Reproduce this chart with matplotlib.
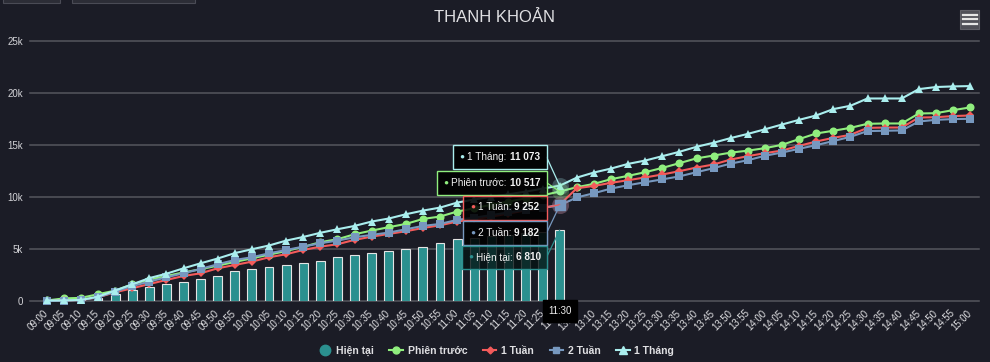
import matplotlib
matplotlib.use("Agg")
import numpy as np
import matplotlib.pyplot as plt
from matplotlib.lines import Line2D
from matplotlib.patches import Rectangle, ConnectionPatch
from matplotlib.text import Annotation

plt.rcParams["font.family"] = ["Liberation Sans", "DejaVu Sans"]

# ---- data -------------------------------------------------------------
times = [
    "09:00", "09:05", "09:10", "09:15", "09:20", "09:25", "09:30", "09:35",
    "09:40", "09:45", "09:50", "09:55", "10:00", "10:05", "10:10", "10:15",
    "10:20", "10:25", "10:30", "10:35", "10:40", "10:45", "10:50", "10:55",
    "11:00", "11:05", "11:10", "11:15", "11:20", "11:25", "11:30",
    "13:05", "13:10", "13:15", "13:20", "13:25", "13:30", "13:35", "13:40",
    "13:45", "13:50", "13:55", "14:00", "14:05", "14:10", "14:15", "14:20",
    "14:25", "14:30", "14:35", "14:40", "14:45", "14:50", "14:55", "15:00",
]

hien_tai = [
    20, 40, 60, 300, 640, 1030, 1380, 1660, 1830, 2120, 2380, 2850, 3070,
    3240, 3460, 3620, 3870, 4190, 4390, 4640, 4800, 4990, 5210, 5600, 5920,
    6050, 6200, 6350, 6500, 6650, 6810,
]

phien_truoc = [
    50, 250, 300, 650, 1000, 1600, 2050, 2400, 2750, 3050, 3400, 3750, 4100,
    4450, 4800, 5200, 5650, 5930, 6410, 6760, 7090, 7400, 7880, 8110, 8590,
    8900, 9250, 9550, 9850, 10150, 10517,
    10930, 11250, 11700, 12020, 12370, 12780, 13240, 13700, 13970, 14250,
    14440, 14680, 15000, 15550, 16090, 16350, 16630, 17020, 17050, 17050,
    18010, 18040, 18330, 18590,
]

tuan_1 = [
    0, 50, 100, 350, 840, 1220, 1630, 2020, 2400, 2660, 3140, 3460, 3780,
    4200, 4490, 4900, 5220, 5450, 5870, 6180, 6440, 6700, 7010, 7270, 7630,
    7850, 8100, 8400, 8700, 8950, 9252,
    10830, 11050, 11350, 11600, 11870, 12150, 12470, 12820, 13110, 13590,
    13910, 14200, 14450, 14900, 15320, 15670, 15960, 16630, 16660, 16660,
    17620, 17650, 17760, 17820,
]

tuan_2 = [
    0, 30, 100, 350, 900, 1440, 1860, 2280, 2660, 3080, 3530, 3940, 4200,
    4580, 4900, 5220, 5550, 5800, 6120, 6350, 6570, 6890, 7210, 7400, 7790,
    8000, 8250, 8500, 8750, 8950, 9182,
    9950, 10350, 10800, 11120, 11410, 11680, 11970, 12370, 12760, 13200,
    13520, 13950, 14260, 14620, 14970, 15360, 15770, 16320, 16350, 16380,
    17240, 17400, 17470, 17500,
]

thang_1 = [
    50, 60, 100, 420, 1000, 1600, 2200, 2620, 3140, 3620, 4080, 4600, 4970,
    5330, 5800, 6150, 6550, 6890, 7210, 7630, 7920, 8330, 8680, 8970, 9450,
    9750, 10000, 10250, 10500, 10800, 11073,
    11850, 12340, 12720, 13170, 13490, 13910, 14330, 14810, 15200, 15650,
    16050, 16490, 16950, 17400, 17820, 18430, 18750, 19450, 19450, 19450,
    20350, 20550, 20610, 20640,
]

y_ticks = [0, 5000, 10000, 15000, 20000, 25000]
y_tick_labels = ["0", "5k", "10k", "15k", "20k", "25k"]

# ---- style ------------------------------------------------------------
W, H = 990, 362
BG = "#1b1c26"
GRID = "#55565e"
TXT = "#E0E0E3"
TEAL, GREEN, RED, BLUE, CYAN = "#2b908f", "#90ee7e", "#f45b5b", "#7798BF", "#aaeeee"


def fx(px):
    return px / W


def fy(py):
    return 1 - py / H


fig = plt.figure(figsize=(W / 100, H / 100), dpi=100, facecolor=BG)
ax = fig.add_axes([fx(30), fy(301), (979 - 30) / W, (301 - 40.7) / H])
ax.set_facecolor(BG)
for s in ax.spines.values():
    s.set_visible(False)

x = np.arange(len(times))
ax.set_xlim(-0.977, 54.52)
ax.set_ylim(0, 25000)

for t in y_ticks:
    ax.axhline(t, color=GRID, lw=1.1, zorder=0, clip_on=False)
ax.set_yticks(y_ticks)
ax.set_yticklabels(y_tick_labels)
ax.tick_params(axis="y", length=0, pad=5, labelsize=7, labelcolor="#D4D4D8")

ax.set_xticks(x)
ax.set_xticklabels(times, rotation=45, ha="right", va="center",
                   rotation_mode="anchor")
ax.tick_params(axis="x", length=0, pad=7.5, labelsize=6.9, labelcolor=TXT)

# current day columns
ax.bar(x[:len(hien_tai)], hien_tai, width=0.52, color=TEAL,
       edgecolor="#e4e4e4", linewidth=0.8, zorder=2)

series = [
    ("Phiên trước", phien_truoc, GREEN, "o", 5.8),
    ("1 Tuần", tuan_1, RED, "D", 3.6),
    ("2 Tuần", tuan_2, BLUE, "s", 5.6),
    ("1 Tháng", thang_1, CYAN, "^", 6.0),
]
for name, vals, col, mk, ms in series:
    ax.plot(x, vals, color=col, lw=1.5, marker=mk, markersize=ms,
            markeredgewidth=0, zorder=3, clip_on=False)

# hover state at 11:30
hi = times.index("11:30")
for name, vals, col, mk, ms in series:
    ax.scatter([hi], [vals[hi]], s=150, color=col, alpha=0.25,
               linewidths=0, zorder=4)
ax.plot([hi], [tuan_2[hi]], marker="s", markersize=7.5, color=BLUE, zorder=5)

# tooltips (layout in figure pixels)
tips = [
    ("1 Tháng", thang_1[hi], CYAN, 452.7, 145.0, 169.5, (0, 0, 0, 0.88)),
    ("Phiên trước", phien_truoc[hi], GREEN, 436.7, 170.5, 195.0, (0, 0, 0, 0.88)),
    ("1 Tuần", tuan_1[hi], RED, 463.0, 195.5, 219.5, (0, 0, 0, 0.88)),
    ("2 Tuần", tuan_2[hi], BLUE, 463.0, 220.5, 245.0, (0, 0, 0, 0.88)),
    ("Hiện tại", hien_tai[hi], TEAL, 461.7, 245.5, 268.5, (0.02, 0.08, 0.08, 0.8)),
]
right = 546.7
for name, val, col, left, top, bot, face in tips:
    mid = (top + bot) / 2
    con = ConnectionPatch(xyA=(right, H - mid), coordsA="figure pixels",
                          xyB=(hi, val), coordsB=ax.transData,
                          color=col, lw=0.9, zorder=6)
    fig.add_artist(con)
    fig.add_artist(Rectangle((fx(left), fy(bot)), (right - left) / W,
                             (bot - top) / H, transform=fig.transFigure,
                             facecolor=face, edgecolor=col, lw=1, zorder=7))
    fig.text(fx(left + 9.4), fy(mid), "●", color=col, fontsize=6,
             ha="center", va="center", zorder=8)
    lab = fig.text(fx(left + 14.5), fy(mid), f"{name}:", color="#F0F0F0",
                   fontsize=7.2, ha="left", va="center", zorder=8)
    ann = Annotation(f"{val:,}".replace(",", " "), xy=(1, 0.5),
                     xycoords=lab, xytext=(2.2, 0), textcoords="offset points",
                     color="#F0F0F0", fontsize=7.2, fontweight="bold",
                     ha="left", va="center", zorder=8)
    fig.add_artist(ann)

# crosshair label on x axis
fig.add_artist(Rectangle((fx(543), fy(322)), 34 / W, 22 / H,
                         transform=fig.transFigure, facecolor="#000000",
                         edgecolor="#000000", zorder=7))
fig.text(fx(560), fy(311), times[hi], color="#F0F0F0", fontsize=7,
         ha="center", va="center", zorder=8)

# title and export button
fig.text(0.5, fy(17), "THANH KHOẢN", color=TXT, fontsize=12,
         ha="center", va="center")
fig.add_artist(Rectangle((fx(959.5), fy(28.5)), 19.5 / W, 18.5 / H,
                         transform=fig.transFigure, facecolor="#505058",
                         edgecolor="#606068", lw=0.8))
for ly in (15, 19.3, 23.6):
    fig.add_artist(Line2D([fx(963), fx(976.5)], [fy(ly), fy(ly)],
                          transform=fig.transFigure, color="#E6E6E6", lw=1.6))
# partially visible range buttons at top left
for bx0, bx1 in ((3, 60), (72, 195)):
    fig.add_artist(Rectangle((fx(bx0), fy(2.5)), (bx1 - bx0) / W, 6 / H,
                             transform=fig.transFigure, facecolor="#2c2d36",
                             edgecolor="#4a4b55", lw=0.8))

# legend
handles = [
    Line2D([], [], color=TEAL, marker="o", linestyle="none", markersize=7.5),
    Line2D([], [], color=GREEN, marker="o", lw=1.5, markersize=5),
    Line2D([], [], color=RED, marker="D", lw=1.5, markersize=3.5),
    Line2D([], [], color=BLUE, marker="s", lw=1.5, markersize=5),
    Line2D([], [], color=CYAN, marker="^", lw=1.5, markersize=5.5),
]
labels = ["Hiện tại", "Phiên trước", "1 Tuần", "2 Tuần", "1 Tháng"]
leg = fig.legend(handles, labels, loc="center", ncol=5, frameon=False,
                 bbox_to_anchor=(fx(496), fy(351)), fontsize=7.5,
                 handlelength=1.3, handletextpad=0.45, columnspacing=1.5,
                 borderaxespad=0)
for t in leg.get_texts():
    t.set_color(TXT)
    t.set_fontweight("bold")

fig.savefig("out.png", dpi=100, facecolor=BG)
